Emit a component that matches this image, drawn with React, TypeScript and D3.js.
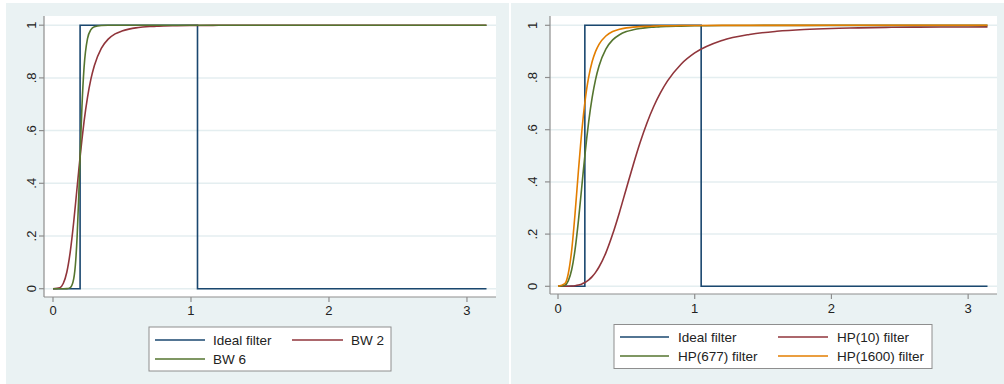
import React from "react";
import * as d3 from "d3";

// Frequency grid (radians) on which the gain curves are tabulated
const freq = [0, 0.05, 0.075, 0.1, 0.125, 0.15, 0.165, 0.175, 0.185, 0.2, 0.21, 0.225, 0.25, 0.275, 0.3, 0.35, 0.4, 0.45, 0.5, 0.55, 0.6, 0.65, 0.7, 0.75, 0.8, 0.9, 1.0, 1.2, 1.4, 1.6, 1.8, 2.0, 2.2, 2.4, 2.6, 2.8, 3.0, 3.1416];

// Gain of the Butterworth high-pass filters
const bw2 = [0, 0.004, 0.0206, 0.0625, 0.140, 0.253, 0.332, 0.386, 0.440, 0.5185, 0.567, 0.634, 0.726, 0.796, 0.847, 0.912, 0.947, 0.967, 0.978, 0.985, 0.990, 0.993, 0.995, 0.996, 0.997, 0.998, 0.999, 0.9996, 0.9998, 0.9999, 1, 1, 1, 1, 1, 1, 1, 1];
const bw6 = [0, 0, 0, 0.0003, 0.0043, 0.0374, 0.109, 0.200, 0.328, 0.555, 0.693, 0.839, 0.949, 0.983, 0.994, 0.999, 0.9999, 1, 1, 1, 1, 1, 1, 1, 1, 1, 1, 1, 1, 1, 1, 1, 1, 1, 1, 1, 1, 1];

// Gain of the Hodrick-Prescott cyclical component for three smoothing values
const hp10 = [0, 0.0001, 0.0003, 0.001, 0.0024, 0.005, 0.0073, 0.0092, 0.0115, 0.0156, 0.0189, 0.0248, 0.0372, 0.0534, 0.0739, 0.128, 0.200, 0.284, 0.375, 0.465, 0.550, 0.625, 0.689, 0.742, 0.786, 0.851, 0.894, 0.942, 0.965, 0.977, 0.984, 0.988, 0.990, 0.992, 0.993, 0.9934, 0.9937, 0.9938];
const hp677 = [0, 0.0042, 0.021, 0.0633, 0.1415, 0.2545, 0.333, 0.387, 0.441, 0.518, 0.567, 0.6325, 0.7236, 0.793, 0.844, 0.909, 0.944, 0.964, 0.976, 0.983, 0.988, 0.991, 0.993, 0.995, 0.996, 0.997, 0.998, 0.999, 0.9995, 0.9997, 0.9998, 0.9998, 0.9999, 0.9999, 0.9999, 0.9999, 0.9999, 0.9999];
const hp1600 = [0, 0.0099, 0.0482, 0.1377, 0.2803, 0.4466, 0.541, 0.599, 0.651, 0.718, 0.756, 0.803, 0.861, 0.900, 0.927, 0.959, 0.976, 0.985, 0.990, 0.993, 0.995, 0.996, 0.997, 0.998, 0.998, 0.999, 0.9993, 0.9996, 0.9998, 0.9999, 0.9999, 1, 1, 1, 1, 1, 1, 1];

// Ideal band-pass filter: passes periods between 6 and 32
const idealFreq = [0, 0.19635, 0.19635, 1.0472, 1.0472, 3.1416];
const idealGain = [0, 0, 1, 1, 0, 0];

const xTicks = [0, 1, 2, 3];
const yTicks = [0, 0.2, 0.4, 0.6, 0.8, 1];
const yTickLabels = ["0", ".2", ".4", ".6", ".8", "1"];

const bwNames = ["Ideal filter", "BW 2", "BW 6"];
const hpNames = ["Ideal filter", "HP(10) filter", "HP(677) filter", "HP(1600) filter"];

const NAVY = "#1a476f";
const MAROON = "#90353b";
const GREEN = "#55752f";
const ORANGE = "#e37e00";
const BG = "#eaf2f3";
const GRID = "#e4eef0";
const AXIS = "#8e8e8e";
const FONT = "'Liberation Sans', Arial, sans-serif";

type Series = { name: string; xs: number[]; ys: number[]; color: string; step?: boolean };
type Entry = { name: string; color: string; col: number; row: number };

type PanelProps = {
  bg: { x: number; y: number; w: number; h: number };
  plot: { x0: number; x1: number; y0: number; y1: number };
  xRange: [number, number];
  yRange: [number, number];
  yLabelX: number;
  xLabelY: number;
  series: Series[];
  legend: { x: number; y: number; w: number; h: number; rows: number[]; lines: [number, number][]; texts: number[] };
  entries: Entry[];
};

function Panel(p: PanelProps) {
  const x = d3.scaleLinear().domain([0, 3.1416]).range([p.xRange[0], p.xRange[0] + (p.xRange[1] - p.xRange[0])]);
  const y = d3.scaleLinear().domain([0, 1]).range(p.yRange);
  return (
    <g>
      <rect x={p.bg.x} y={p.bg.y} width={p.bg.w} height={p.bg.h} fill={BG} />
      <rect x={p.plot.x0} y={p.plot.y0} width={p.plot.x1 - p.plot.x0} height={p.plot.y1 - p.plot.y0} fill="#ffffff" />
      {yTicks.map((t) => (
        <line key={"g" + t} x1={p.plot.x0} x2={p.plot.x1} y1={y(t)} y2={y(t)} stroke={GRID} strokeWidth={1.5} />
      ))}
      {p.series.map((s) => {
        const pts = s.xs.map((v, i) => [x(v), y(s.ys[i])] as [number, number]);
        const gen = d3.line().curve(s.step ? d3.curveLinear : d3.curveMonotoneX);
        return <path key={s.name} d={gen(pts) || ""} fill="none" stroke={s.color} strokeWidth={1.6} strokeLinejoin="miter" />;
      })}
      {/* axes */}
      <line x1={p.plot.x0} x2={p.plot.x0} y1={p.plot.y0} y2={p.plot.y1} stroke={AXIS} strokeWidth={1.2} />
      <line x1={p.plot.x0} x2={p.plot.x1} y1={p.plot.y1} y2={p.plot.y1} stroke={AXIS} strokeWidth={1.2} />
      {yTicks.map((t, i) => (
        <g key={"y" + t}>
          <line x1={p.plot.x0 - 5} x2={p.plot.x0} y1={y(t)} y2={y(t)} stroke={AXIS} strokeWidth={1.2} />
          <text
            transform={`translate(${p.yLabelX},${y(t)}) rotate(-90)`}
            textAnchor="middle"
            dominantBaseline="central"
            fontSize={13}
            fontFamily={FONT}
            fill="#222"
          >
            {yTickLabels[i]}
          </text>
        </g>
      ))}
      {xTicks.map((t) => (
        <g key={"x" + t}>
          <line x1={x(t)} x2={x(t)} y1={p.plot.y1} y2={p.plot.y1 + 5} stroke={AXIS} strokeWidth={1.2} />
          <text x={x(t)} y={p.xLabelY} textAnchor="middle" dominantBaseline="central" fontSize={13} fontFamily={FONT} fill="#222">
            {t}
          </text>
        </g>
      ))}
      {/* legend */}
      <rect x={p.legend.x} y={p.legend.y} width={p.legend.w} height={p.legend.h} fill="#ffffff" stroke={AXIS} strokeWidth={1} />
      {p.entries.map((e) => (
        <g key={"l" + e.name}>
          <line
            x1={p.legend.lines[e.col][0]}
            x2={p.legend.lines[e.col][1]}
            y1={p.legend.rows[e.row]}
            y2={p.legend.rows[e.row]}
            stroke={e.color}
            strokeWidth={1.6}
          />
          <text x={p.legend.texts[e.col]} y={p.legend.rows[e.row]} dominantBaseline="central" fontSize={13.5} fontFamily={FONT} fill="#222">
            {e.name}
          </text>
        </g>
      ))}
    </g>
  );
}

export default function App() {
  const leftSeries: Series[] = [
    { name: bwNames[0], xs: idealFreq, ys: idealGain, color: NAVY, step: true },
    { name: bwNames[1], xs: freq, ys: bw2, color: MAROON },
    { name: bwNames[2], xs: freq, ys: bw6, color: GREEN },
  ];
  const rightSeries: Series[] = [
    { name: hpNames[0], xs: idealFreq, ys: idealGain, color: NAVY, step: true },
    { name: hpNames[1], xs: freq, ys: hp10, color: MAROON },
    { name: hpNames[2], xs: freq, ys: hp677, color: GREEN },
    { name: hpNames[3], xs: freq, ys: hp1600, color: ORANGE },
  ];
  return (
    <div style={{ position: "fixed", left: 0, top: 0 }}>
      <svg width={1004} height={384} style={{ display: "block", background: "#ffffff" }}>
        <Panel
          bg={{ x: 6, y: 3, w: 503, h: 381 }}
          plot={{ x0: 44, x1: 496, y0: 16, y1: 297 }}
          xRange={[53, 486.5]}
          yRange={[288.7, 25.2]}
          yLabelX={31.5}
          xLabelY={310}
          series={leftSeries}
          legend={{ x: 149, y: 327, w: 242, h: 44, rows: [340, 359], lines: [[155, 205], [292, 343]], texts: [213, 351] }}
          entries={[
            { name: bwNames[0], color: NAVY, col: 0, row: 0 },
            { name: bwNames[1], color: MAROON, col: 1, row: 0 },
            { name: bwNames[2], color: GREEN, col: 0, row: 1 },
          ]}
        />
        <Panel
          bg={{ x: 511, y: 3, w: 493, h: 381 }}
          plot={{ x0: 550, x1: 997, y0: 16, y1: 294 }}
          xRange={[558, 987.5]}
          yRange={[286.3, 25.3]}
          yLabelX={532}
          xLabelY={308}
          series={rightSeries}
          legend={{ x: 614, y: 324.5, w: 318, h: 44, rows: [337, 356], lines: [[620, 669], [778, 828]], texts: [678, 837] }}
          entries={[
            { name: hpNames[0], color: NAVY, col: 0, row: 0 },
            { name: hpNames[1], color: MAROON, col: 1, row: 0 },
            { name: hpNames[2], color: GREEN, col: 0, row: 1 },
            { name: hpNames[3], color: ORANGE, col: 1, row: 1 },
          ]}
        />
      </svg>
    </div>
  );
}
